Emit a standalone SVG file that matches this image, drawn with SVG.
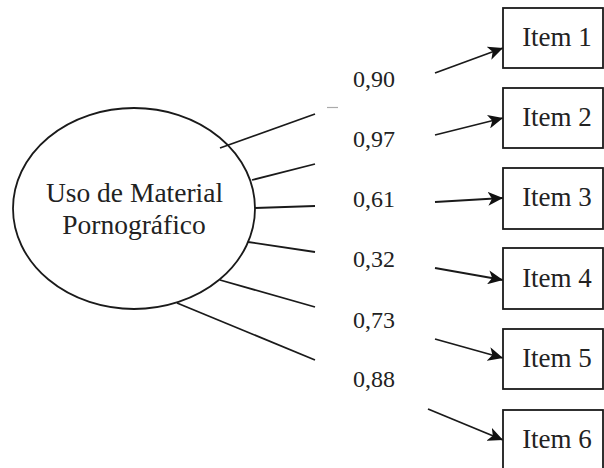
<svg xmlns="http://www.w3.org/2000/svg" width="604" height="468" viewBox="0 0 604 468">
<style>
.ln{stroke:#1a1a1a;stroke-width:1.8;fill:none}
.ar{stroke:#1a1a1a;stroke-width:1.8;fill:none;marker-end:url(#ah)}
.bx{fill:#fff;stroke:#1a1a1a;stroke-width:1.8}
.t{font-family:"Liberation Serif","Times New Roman",serif;fill:#222}
.it{font-size:27px;text-anchor:middle}
.lb{font-size:24px}
.lt{font-size:27.5px;text-anchor:middle}
</style>
<defs>
<marker id="ah" markerUnits="userSpaceOnUse" markerWidth="16" markerHeight="14" refX="15" refY="7" orient="auto">
<path d="M0,0 L15,7 L0,14 L4,7 Z" fill="#111"/>
</marker>
</defs>
<rect width="604" height="468" fill="#fff"/>
<g id="latent">
<ellipse cx="134" cy="208.5" rx="121" ry="100.5" class="bx"/>
<text class="t lt" x="134.5" y="202">Uso de Material</text>
<text class="t lt" x="134" y="234">Pornográfico</text>
</g>
<g id="connectors">
<line class="ln" x1="220" y1="148" x2="315" y2="114"/>
<line x1="327" y1="107.5" x2="338" y2="107.5" stroke="#aaa" stroke-width="1.2"/>
<line class="ln" x1="252" y1="180" x2="315" y2="164"/>
<line class="ln" x1="255" y1="208" x2="315" y2="206"/>
<line class="ln" x1="248" y1="242" x2="315" y2="252"/>
<line class="ln" x1="220" y1="280" x2="315" y2="307"/>
<line class="ln" x1="177" y1="303" x2="315" y2="360"/>
<line class="ar" x1="435" y1="73" x2="503" y2="48"/>
<line class="ar" x1="435" y1="135" x2="503" y2="118"/>
<line class="ar" x1="435" y1="202" x2="503" y2="198"/>
<line class="ar" x1="435" y1="268" x2="503" y2="280"/>
<line class="ar" x1="435" y1="339" x2="503" y2="358"/>
<line class="ar" x1="428" y1="409" x2="503" y2="440"/>
</g>
<g id="labels">
<text class="t lb" x="353" y="87">0,90</text>
<text class="t lb" x="353" y="147">0,97</text>
<text class="t lb" x="353" y="207">0,61</text>
<text class="t lb" x="353" y="267">0,32</text>
<text class="t lb" x="353" y="328">0,73</text>
<text class="t lb" x="353" y="387">0,88</text>
</g>
<g id="item1"><rect class="bx" x="503" y="8" width="100" height="60"/><text class="t it" x="557" y="46">Item 1</text></g>
<g id="item2"><rect class="bx" x="503" y="88" width="100" height="60"/><text class="t it" x="557" y="126">Item 2</text></g>
<g id="item3"><rect class="bx" x="503" y="168" width="100" height="61"/><text class="t it" x="557" y="206">Item 3</text></g>
<g id="item4"><rect class="bx" x="503" y="248" width="100" height="61"/><text class="t it" x="557" y="287">Item 4</text></g>
<g id="item5"><rect class="bx" x="503" y="329" width="100" height="60"/><text class="t it" x="557" y="367">Item 5</text></g>
<g id="item6"><rect class="bx" x="503" y="410" width="100" height="70"/><text class="t it" x="557" y="448">Item 6</text></g>
</svg>
